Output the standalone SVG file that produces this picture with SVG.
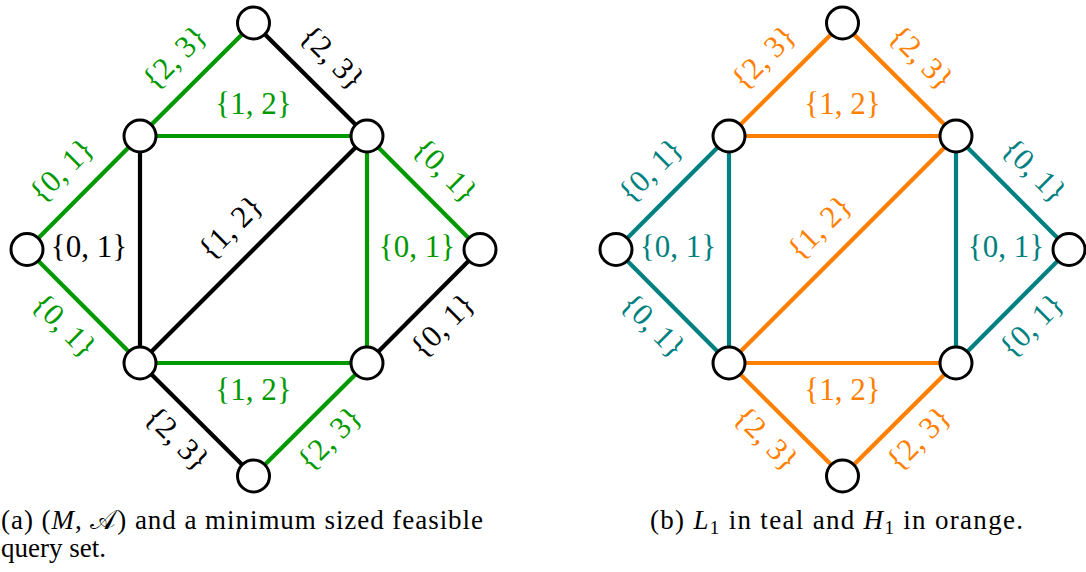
<svg xmlns="http://www.w3.org/2000/svg" width="1086" height="572" viewBox="0 0 1086 572">
<style>
.e{stroke-width:4.2;fill:none;stroke-linecap:butt}
.k{stroke:#000}
.g{stroke:#009900}
.t{stroke:#008080}
.o{stroke:#ff8000}
.n{fill:#fff;stroke:#000;stroke-width:3}
.lb{font-family:"Liberation Serif","Times New Roman",serif;font-size:31px;text-anchor:middle}
.lk{fill:#000}.lg{fill:#009900}.lt{fill:#008080}.lo{fill:#ff8000}
.cap{font-family:"Liberation Serif","Times New Roman",serif;font-size:27px;fill:#000}
</style>
<defs>
<circle id="nd" r="16" class="n"/>
</defs>

<!-- Graph (a) connectors -->
<g id="connectors-a">
<line class="e g" x1="140" y1="136" x2="253.5" y2="23"/>
<line class="e k" x1="253.5" y1="23" x2="367" y2="136"/>
<line class="e g" x1="140" y1="136" x2="367" y2="136"/>
<line class="e g" x1="140" y1="136" x2="27" y2="249.5"/>
<line class="e k" x1="140" y1="136" x2="140" y2="363"/>
<line class="e k" x1="367" y1="136" x2="140" y2="363"/>
<line class="e g" x1="367" y1="136" x2="367" y2="363"/>
<line class="e g" x1="367" y1="136" x2="480" y2="249.5"/>
<line class="e g" x1="27" y1="249.5" x2="140" y2="363"/>
<line class="e g" x1="140" y1="363" x2="367" y2="363"/>
<line class="e k" x1="480" y1="249.5" x2="367" y2="363"/>
<line class="e k" x1="140" y1="363" x2="253.5" y2="476"/>
<line class="e g" x1="367" y1="363" x2="253.5" y2="476"/>
</g>
<g id="labels-a">
<text class="lb lg" transform="translate(176,59) rotate(-45)" y="8">{2, 3}</text>
<text class="lb lk" transform="translate(331,59) rotate(45)" y="8">{2, 3}</text>
<text class="lb lg" x="253.5" y="114">{1, 2}</text>
<text class="lb lg" transform="translate(63,172) rotate(-45)" y="8">{0, 1}</text>
<text class="lb lk" x="89" y="257">{0, 1}</text>
<text class="lb lk" transform="translate(232,229) rotate(-45)" y="8">{1, 2}</text>
<text class="lb lg" x="417" y="257">{0, 1}</text>
<text class="lb lg" transform="translate(444,172) rotate(45)" y="8">{0, 1}</text>
<text class="lb lg" transform="translate(63,327) rotate(45)" y="8">{0, 1}</text>
<text class="lb lg" x="253.5" y="400">{1, 2}</text>
<text class="lb lk" transform="translate(444,327) rotate(-45)" y="8">{0, 1}</text>
<text class="lb lk" transform="translate(176,440) rotate(45)" y="8">{2, 3}</text>
<text class="lb lg" transform="translate(331,440) rotate(-45)" y="8">{2, 3}</text>
</g>
<g id="node-a-top"><use href="#nd" x="253.5" y="23"/></g>
<g id="node-a-ul"><use href="#nd" x="140" y="136"/></g>
<g id="node-a-ur"><use href="#nd" x="367" y="136"/></g>
<g id="node-a-l"><use href="#nd" x="27" y="249.5"/></g>
<g id="node-a-r"><use href="#nd" x="480" y="249.5"/></g>
<g id="node-a-ll"><use href="#nd" x="140" y="363"/></g>
<g id="node-a-lr"><use href="#nd" x="367" y="363"/></g>
<g id="node-a-bottom"><use href="#nd" x="253.5" y="476"/></g>

<!-- Graph (b) connectors -->
<g id="connectors-b" transform="translate(589,0)">
<line class="e o" x1="140" y1="136" x2="253.5" y2="23"/>
<line class="e o" x1="253.5" y1="23" x2="367" y2="136"/>
<line class="e o" x1="140" y1="136" x2="367" y2="136"/>
<line class="e t" x1="140" y1="136" x2="27" y2="249.5"/>
<line class="e t" x1="140" y1="136" x2="140" y2="363"/>
<line class="e o" x1="367" y1="136" x2="140" y2="363"/>
<line class="e t" x1="367" y1="136" x2="367" y2="363"/>
<line class="e t" x1="367" y1="136" x2="480" y2="249.5"/>
<line class="e t" x1="27" y1="249.5" x2="140" y2="363"/>
<line class="e o" x1="140" y1="363" x2="367" y2="363"/>
<line class="e t" x1="480" y1="249.5" x2="367" y2="363"/>
<line class="e o" x1="140" y1="363" x2="253.5" y2="476"/>
<line class="e o" x1="367" y1="363" x2="253.5" y2="476"/>
</g>
<g id="labels-b" transform="translate(589,0)">
<text class="lb lo" transform="translate(176,59) rotate(-45)" y="8">{2, 3}</text>
<text class="lb lo" transform="translate(331,59) rotate(45)" y="8">{2, 3}</text>
<text class="lb lo" x="253.5" y="114">{1, 2}</text>
<text class="lb lt" transform="translate(63,172) rotate(-45)" y="8">{0, 1}</text>
<text class="lb lt" x="89" y="257">{0, 1}</text>
<text class="lb lo" transform="translate(232,229) rotate(-45)" y="8">{1, 2}</text>
<text class="lb lt" x="417" y="257">{0, 1}</text>
<text class="lb lt" transform="translate(444,172) rotate(45)" y="8">{0, 1}</text>
<text class="lb lt" transform="translate(63,327) rotate(45)" y="8">{0, 1}</text>
<text class="lb lo" x="253.5" y="400">{1, 2}</text>
<text class="lb lt" transform="translate(444,327) rotate(-45)" y="8">{0, 1}</text>
<text class="lb lo" transform="translate(176,440) rotate(45)" y="8">{2, 3}</text>
<text class="lb lo" transform="translate(331,440) rotate(-45)" y="8">{2, 3}</text>
</g>
<g id="node-b-top"><use href="#nd" x="842.5" y="23"/></g>
<g id="node-b-ul"><use href="#nd" x="729" y="136"/></g>
<g id="node-b-ur"><use href="#nd" x="956" y="136"/></g>
<g id="node-b-l"><use href="#nd" x="616" y="249.5"/></g>
<g id="node-b-r"><use href="#nd" x="1069" y="249.5"/></g>
<g id="node-b-ll"><use href="#nd" x="729" y="363"/></g>
<g id="node-b-lr"><use href="#nd" x="956" y="363"/></g>
<g id="node-b-bottom"><use href="#nd" x="842.5" y="476"/></g>

<g id="captions">
<text class="cap" x="1" y="529" textLength="482" lengthAdjust="spacing">(a) (<tspan font-style="italic">M</tspan>, <tspan font-family="'DejaVu Sans',sans-serif">𝒜</tspan>) and a minimum sized feasible</text>
<text class="cap" x="1" y="557">query set.</text>
<text class="cap" x="650" y="529" textLength="373" lengthAdjust="spacing">(b) <tspan font-style="italic">L</tspan><tspan font-size="19" dy="5">1</tspan><tspan dy="-5"> in teal and </tspan><tspan font-style="italic">H</tspan><tspan font-size="19" dy="5">1</tspan><tspan dy="-5"> in orange.</tspan></text>
</g>
</svg>
